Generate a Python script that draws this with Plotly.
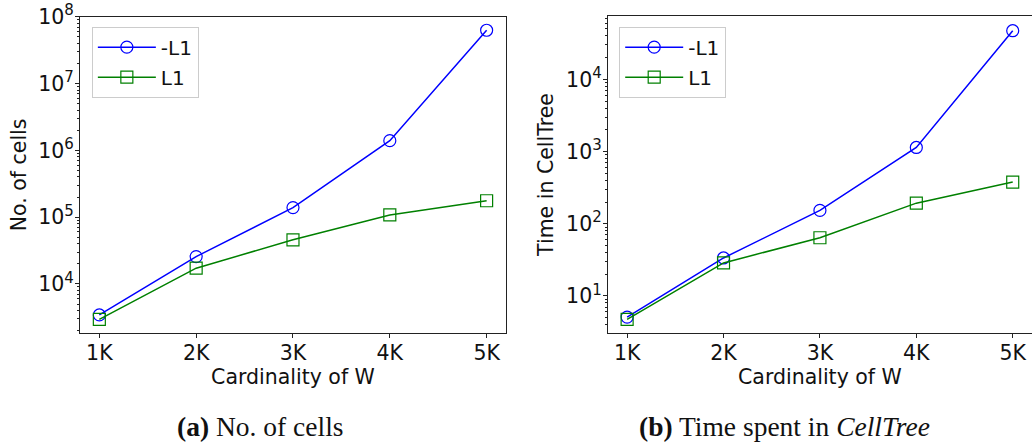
import plotly.graph_objects as go

categories = ["1K", "2K", "3K", "4K", "5K"]
x_vals = [1, 2, 3, 4, 5]

cells_not_l1 = [3430, 25700, 139000, 1400000, 63000000]
cells_l1 = [2950, 17200, 45800, 108000, 176000]

time_not_l1 = [5.1, 33.6, 153, 1140, 47200]
time_l1 = [4.75, 28.7, 64, 193, 378]

series_names = ["-L1", "L1"]
left_ticks = [4, 5, 6, 7, 8]
right_ticks = [1, 2, 3, 4]

BLUE = "#0000ff"
GREEN = "#008000"
FONT = "DejaVu Sans"
TXT = "#111111"
FS = 20.5

fig = go.Figure()

def add(x, y, name, color, symbol, xa, ya, legend):
    fig.add_trace(go.Scatter(
        x=x, y=y, name=name, mode="lines+markers",
        line=dict(color=color, width=1.5),
        marker=dict(symbol=symbol, size=12, color=color,
                    line=dict(color=color, width=1.2)),
        xaxis=xa, yaxis=ya, legend=legend, legendgroup=name + legend,
    ))

add(x_vals, cells_not_l1, series_names[0], BLUE, "circle-open", "x", "y", "legend")
add(x_vals, cells_l1, series_names[1], GREEN, "square-open", "x", "y", "legend")
add(x_vals, time_not_l1, series_names[0], BLUE, "circle-open", "x2", "y2", "legend2")
add(x_vals, time_l1, series_names[1], GREEN, "square-open", "x2", "y2", "legend2")

def minor_vals(lo, hi):
    out = []
    for n in range(lo, hi + 1):
        for k in range(2, 10):
            out.append(k * 10 ** n)
    return out

def pow_label(t):
    return "10<sup><span style='font-size:15px'>%d</span></sup>" % t

axis_common = dict(
    showline=True, mirror=True, linecolor="#222", linewidth=1,
    ticks="outside", ticklen=4, tickcolor="#222", showgrid=False, zeroline=False,
    tickfont=dict(family=FONT, size=FS, color=TXT), automargin=False,
)

xaxis_common = dict(
    axis_common, tickmode="array", tickvals=x_vals, ticktext=categories,
    range=[0.8, 5.2], ticklabelstandoff=-3,
    title=dict(text="Cardinality of W", font=dict(family=FONT, size=FS, color=TXT), standoff=0),
)

legend_common = dict(
    xanchor="left", yanchor="top",
    bordercolor="#cccccc", borderwidth=1, bgcolor="white",
    font=dict(family=FONT, size=20, color=TXT), tracegroupgap=1,
    itemwidth=58,
)

fig.update_layout(
    width=1032, height=444,
    margin=dict(l=0, r=0, t=0, b=0, autoexpand=False),
    paper_bgcolor="white", plot_bgcolor="white",
    xaxis=dict(xaxis_common, domain=[0.0775, 0.4903], anchor="y"),
    xaxis2=dict(xaxis_common, domain=[0.589, 1.0], anchor="y2"),
    yaxis=dict(axis_common, type="log", domain=[0.25, 0.962], anchor="x",
               range=[3.265, 8.0], ticklabelstandoff=-3,
               tickmode="array", tickvals=[10 ** t for t in left_ticks],
               ticktext=[pow_label(t) for t in left_ticks],
               minor=dict(tickmode="array", tickvals=minor_vals(3, 7), ticks="outside",
                          ticklen=2, tickcolor="#222", showgrid=False),
               title=dict(text="No. of cells", font=dict(family=FONT, size=FS, color=TXT), standoff=6)),
    yaxis2=dict(axis_common, type="log", domain=[0.25, 0.964], anchor="x2",
                range=[0.487, 4.878], ticklabelstandoff=-3,
                tickmode="array", tickvals=[10 ** t for t in right_ticks],
                ticktext=[pow_label(t) for t in right_ticks],
                minor=dict(tickmode="array", tickvals=minor_vals(0, 4), ticks="outside",
                           ticklen=2, tickcolor="#222", showgrid=False),
                title=dict(text="Time in CellTree", font=dict(family=FONT, size=FS, color=TXT), standoff=6)),
    legend=dict(legend_common, x=0.089, y=0.94),
    legend2=dict(legend_common, x=0.6, y=0.94),
    showlegend=True,
)

fig.add_annotation(text="<b>(a)</b> No. of cells", x=0.252, y=18 / 444, xref="paper", yref="paper",
                   yanchor="middle", xanchor="center", showarrow=False,
                   font=dict(family="Liberation Serif", size=27.5, color=TXT))
fig.add_annotation(text="<b>(b)</b> Time spent in <i>CellTree</i>", x=0.76, y=18 / 444, xref="paper", yref="paper",
                   yanchor="middle", xanchor="center", showarrow=False,
                   font=dict(family="Liberation Serif", size=27.5, color=TXT))

fig.write_html("out.html")
